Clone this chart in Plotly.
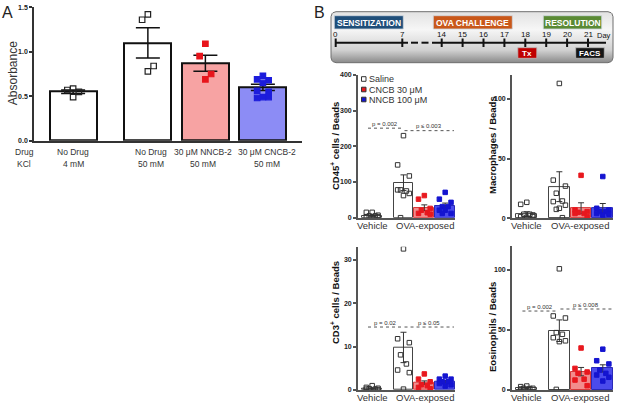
import numpy as np
import plotly.graph_objects as go

W, H = 617, 405
FONT = "Arial, Liberation Sans, sans-serif"
NARROW = "Liberation Sans Narrow, Arial Narrow, " + FONT

# ---------------- Panel A data ----------------
a_drug = ["No Drug", "No Drug", "30 μM NNCB-2", "30 μM CNCB-2"]
a_kcl = ["4 mM", "50 mM", "50 mM", "50 mM"]
a_mean = [0.55, 1.10, 0.87, 0.60]
a_sem = [0.02, 0.17, 0.09, 0.035]
a_pts = [
    [0.585, 0.57, 0.55, 0.49],
    [1.42, 1.36, 0.84, 0.78],
    [1.09, 0.95, 0.75, 0.69],
    [0.73, 0.69, 0.68, 0.65, 0.56, 0.55, 0.49, 0.48, 0.49],
]
a_yticks = [0.0, 0.5, 1.0, 1.5]

# ---------------- Panel B data ----------------
b_groups = ["Vehicle", "OVA-exposed"]
b_series = ["Saline", "CNCB 30 μM", "NNCB 100 μM"]

cd45_mean = [5, 98, 28, 34]
cd45_sem = [2, 22, 8, 7]
cd45_pts = [[15, 15, 7, 5, 5, 3, 3, 1],
            [230, 148, 117, 78, 75, 78, 68, 62, 0],
            [62, 52, 26, 21, 14, 12, 10],
            [71, 52, 43, 31, 31, 21, 12, 21, 12]]

mac_mean = [3.5, 26.5, 8.4, 8.4]
mac_sem = [2, 12.5, 4.6, 4]
mac_pts = [[13.4, 11.7, 2.8, 3.4, 3.4, 1.4, 1.4, 0.8],
           [113, 32, 27, 21, 14.5, 14, 11, 8.4, 7.5, 0.5],
           [36, 7, 5.6, 5, 4, 4, 1.4],
           [35, 8.4, 7, 5.6, 5.6, 4, 3.4, 2.8]]

cd3_mean = [0.3, 9.8, 1.7, 1.9]
cd3_sem = [0.1, 3.5, 0.4, 0.3]
cd3_pts = [[1.0, 0.6, 0.4, 0.3, 0.2, 0.2, 0.1],
           [32.5, 11.8, 10.9, 8.1, 6.0, 4.6, 4.0, 0.2],
           [3.7, 2.5, 1.9, 1.2, 1.0, 0.6, 0.3],
           [3.2, 2.5, 2.5, 1.9, 1.9, 1.5, 1.2, 0.9]]

eos_mean = [2, 49.4, 15.3, 18]
eos_sem = [0.5, 9, 3.5, 3]
eos_pts = [[3.3, 2.8, 1.4, 1.4, 1.2, 0.8],
           [101, 61.7, 60, 47.8, 46.4, 43.6, 41, 40.3, 0.5],
           [35, 18, 15, 14, 9, 8.3, 3.6],
           [34, 24.4, 21.7, 16.7, 13.9, 12.5, 10.6, 7.5]]

cd45_p = ["p = 0.002", "p ≤ 0.003"]; cd45_p_y = [251, 244]
cd3_p = ["p = 0.02", "p ≤ 0.05"];    cd3_p_y = [14.5, 14.5]
eos_p = ["p = 0.002", "p ≤ 0.008"];  eos_p_y = [65.8, 67.5]

# timeline
tl_days = [0, 7, 14, 15, 16, 17, 18, 19, 20, 21]
tl_phases = ["SENSITIZATION", "OVA CHALLENGE", "RESOLUTION"]

# ---------------- helpers ----------------
def dom_x(x0, x1):
    return [x0 / W, x1 / W]

def dom_y(ytop, ybot):
    return [1 - ybot / H, 1 - ytop / H]

PATTERN_B = [0, -1, 1, -0.5, 0.5, -1, 1, 0, -0.5, 0.5, 0]
PATTERN_A = [0, -1, 1]

def jitter(center, n, spread, pattern):
    return [center + spread * pattern[i % len(pattern)] for i in range(n)]

def pann(x, y, text, **kw):
    d = dict(x=x / W, y=1 - y / H, xref="paper", yref="paper", text=text, showarrow=False,
             xanchor="center", yanchor="middle")
    d.update(kw)
    return d

fig = go.Figure()
layout = dict(width=W, height=H, margin=dict(l=0, r=0, t=0, b=0, pad=0),
              paper_bgcolor="white", plot_bgcolor="rgba(0,0,0,0)",
              showlegend=False, font=dict(family=FONT, color="#222"))
annotations = []
shapes = []

def add_axes(n, xd, yd, xr, yr, ticks, fmt, lc, lw, tfs):
    xs = "xaxis" if n == 1 else f"xaxis{n}"
    ys = "yaxis" if n == 1 else f"yaxis{n}"
    xa = "x" if n == 1 else f"x{n}"
    ya = "y" if n == 1 else f"y{n}"
    layout[xs] = dict(domain=xd, range=xr, anchor=ya, showline=True, linecolor=lc,
                      linewidth=lw, showticklabels=False, ticks="", showgrid=False,
                      zeroline=False, fixedrange=True, automargin=False)
    layout[ys] = dict(domain=yd, range=yr, anchor=xa, showline=True, linecolor=lc,
                      linewidth=lw, ticks="outside", ticklen=3, tickwidth=lw, tickcolor=lc,
                      tickvals=ticks, tickformat=fmt, showgrid=False, zeroline=False,
                      tickfont=dict(size=tfs, weight="bold", color="#222"), fixedrange=True,
                      automargin=False)
    return xa, ya

# ---------------- Panel A ----------------
a_x = [0, 1.3, 2.3, 3.3]
a_label_px = [73, 150.7, 203.3, 266.7]
xa, ya = add_axes(1, dom_x(34, 302), dom_y(7.3, 140.7), [-0.68, 3.98], [0, 1.5],
                  a_yticks, ".1f", "#333", 1.5, 7)
a_fill = ["white", "white", "#f7a3a3", "#8c8cf5"]
fig.add_trace(go.Bar(x=a_x, y=a_mean, width=0.82, xaxis=xa, yaxis=ya,
                     marker=dict(color=a_fill, line=dict(color="#111", width=2)),
                     error_y=dict(type="data", array=a_sem, color="#111", thickness=1.5, width=12)))
a_msym = ["square-open", "square-open", "square", "square"]
a_mcol = ["#222", "#222", "#e8141b", "#1c1cdc"]
for i in range(4):
    fig.add_trace(go.Scatter(x=jitter(a_x[i], len(a_pts[i]), 0.1, PATTERN_A), y=a_pts[i],
                             mode="markers", xaxis=xa, yaxis=ya,
                             marker=dict(symbol=a_msym[i], size=5.5, color=a_mcol[i],
                                         line=dict(width=1.2, color=a_mcol[i]))))
for i in range(4):
    annotations.append(pann(a_label_px[i], 152.3, a_drug[i], font=dict(size=8.5, color="#333")))
    annotations.append(pann(a_label_px[i], 164, a_kcl[i], font=dict(size=8.5, color="#333")))
annotations.append(pann(24, 152.3, "Drug", font=dict(size=8.5, color="#333")))
annotations.append(pann(24, 164, "KCl", font=dict(size=8.5, color="#333")))
annotations.append(pann(12.7, 73.5, "Absorbance", textangle=-90, font=dict(size=12, color="#333")))
annotations.append(pann(7.5, 12.5, "A", font=dict(size=16, color="#222")))
annotations.append(pann(319, 12, "B", font=dict(size=16, color="#222")))

# ---------------- Panel B ----------------
b_x = [0, 1.5, 2.5, 3.5]
XR = [-0.68, 3.97]
b_fill = ["white", "#f28c8c", "#4b4bec"]
b_line = ["#444", "#d83a3a", "#2a2ab8"]
b_msym = ["square-open", "square", "square"]
b_mcol = ["#333", "#e8181e", "#1515d0"]

panels = [
    (2, (358, 455), (75, 217.7), [0, 400], [0, 100, 200, 300, 400], cd45_mean, cd45_sem, cd45_pts,
     "CD45<sup>+</sup> cells / Beads", (335, 146), cd45_p, cd45_p_y, (372, 425, 225)),
    (3, (512, 613), (75.1, 218.3), [0, 120], [0, 50, 100], mac_mean, mac_sem, mac_pts,
     "Macrophages / Beads", (492, 145), None, None, (526.7, 580, 225)),
    (4, (358, 455), (246.7, 390), [0, 33], [0, 10, 20, 30], cd3_mean, cd3_sem, cd3_pts,
     "CD3<sup>+</sup> cells / Beads", (335, 303), cd3_p, cd3_p_y, (372, 425, 397.3)),
    (5, (512, 613), (246, 390), [0, 120], [0, 50, 100], eos_mean, eos_sem, eos_pts,
     "Eosinophils / Beads", (492, 327), eos_p, eos_p_y, (526.7, 580, 397.3)),
]

for (n, xd, yd, yr, ticks, mean, sem, pts, title, tpos, ptxt, py_, lab) in panels:
    xa, ya = add_axes(n, dom_x(*xd), dom_y(*yd), XR, yr, ticks, "d", "#555", 1.8, 7)
    groups = [[0, 1], [2], [3]]
    for s, idx in enumerate(groups):
        fig.add_trace(go.Bar(x=[b_x[i] for i in idx], y=[mean[i] for i in idx], width=0.95,
                             xaxis=xa, yaxis=ya,
                             marker=dict(color=b_fill[s], line=dict(color=b_line[s], width=1)),
                             error_y=dict(type="data", array=[sem[i] for i in idx],
                                          color="#333", thickness=1, width=3)))
    for s, idx in enumerate(groups):
        for i in idx:
            fig.add_trace(go.Scatter(x=jitter(b_x[i], len(pts[i]), 0.28, PATTERN_B), y=pts[i],
                                     mode="markers", xaxis=xa, yaxis=ya,
                                     marker=dict(symbol=b_msym[s], size=4.5, color=b_mcol[s],
                                                 line=dict(width=1, color=b_mcol[s]))))
    annotations.append(pann(tpos[0], tpos[1], title, textangle=-90,
                            font=dict(size=9.5, weight="bold", color="#111")))
    annotations.append(pann(lab[0], lab[2], b_groups[0], font=dict(size=9.5, color="#333")))
    annotations.append(pann(lab[1], lab[2], b_groups[1], font=dict(size=9.5, color="#333")))
    if ptxt:
        spans = [(-0.2, 1.45), (1.55, 3.92)]
        for k in range(2):
            shapes.append(dict(type="line", xref=xa, yref=ya, x0=spans[k][0], x1=spans[k][1],
                               y0=py_[k], y1=py_[k], line=dict(color="#555", width=1, dash="dot")))
            annotations.append(dict(x=(spans[k][0] + spans[k][1]) / 2, y=py_[k], xref=xa, yref=ya,
                                    text=ptxt[k], showarrow=False, yshift=4.5,
                                    xanchor="center", yanchor="middle",
                                    font=dict(size=6, color="#333")))

# helper pixel axis for diagram elements
layout["xaxis6"] = dict(domain=[0, 1], range=[0, W], anchor="y6", visible=False, fixedrange=True)
layout["yaxis6"] = dict(domain=[0, 1], range=[H, 0], anchor="x6", visible=False, fixedrange=True)

# legend (CD45 panel)
leg_y = [79, 89.5, 99.5]
leg_fill = ["white", "#e8181e", "#1515d0"]
for k in range(3):
    shapes.append(dict(type="rect", xref="x6", yref="y6", x0=361.5, x1=366, y0=leg_y[k] - 2.3,
                       y1=leg_y[k] + 2.3, fillcolor=leg_fill[k], line=dict(color="#333", width=1)))
    annotations.append(dict(x=366.5, y=leg_y[k], xref="x6", yref="y6", text=b_series[k],
                            showarrow=False, xanchor="left", yanchor="middle",
                            font=dict(size=9, color="#333")))

# ---------------- Timeline ----------------
knots_d = [0, 7, 14, 21]
knots_p = [335.7, 402.3, 441.7, 588.0]
def dpx(d):
    return float(np.interp(d, knots_d, knots_p))

bx0, bx1, by0, by1, r = 331, 613, 11.7, 62.7, 5
t = np.linspace(0, np.pi / 2, 8)
xs, ys = [], []
for cx, cy, a0 in [(bx1 - r, by0 + r, -np.pi / 2), (bx1 - r, by1 - r, 0),
                   (bx0 + r, by1 - r, np.pi / 2), (bx0 + r, by0 + r, np.pi)]:
    xs += list(cx + r * np.cos(a0 + t))
    ys += list(cy + r * np.sin(a0 + t))
xs.append(xs[0]); ys.append(ys[0])
fig.add_trace(go.Scatter(x=xs, y=ys, xaxis="x6", yaxis="y6", mode="lines", fill="toself",
                         line=dict(color="#6e6e6e", width=1),
                         fillgradient=dict(type="vertical", start=by0, stop=by1,
                                           colorscale=[[0, "#e2e2e2"], [0.35, "#f6f6f6"],
                                                       [0.75, "#d2d2d2"], [1, "#8a8a8a"]]),
                         hoverinfo="skip"))

phase_box = [(334.3, 403.3, "#1f4e79"), (433.3, 512.3, "#c9581a"), (543.3, 601.7, "#5a8a34")]
for k, (x0, x1, c) in enumerate(phase_box):
    shapes.append(dict(type="rect", xref="x6", yref="y6", x0=x0, x1=x1, y0=15.7, y1=29,
                       fillcolor=c, line=dict(color="#cfd8e0", width=0.8)))
    annotations.append(dict(x=(x0 + x1) / 2, y=22.5, xref="x6", yref="y6", text=tl_phases[k],
                            showarrow=False, xanchor="center", yanchor="middle",
                            font=dict(size=8.5, weight="bold", color="white", family=NARROW)))

ly = 42.7
shapes.append(dict(type="line", xref="x6", yref="y6", x0=dpx(0) - 0.5, x1=408, y0=ly, y1=ly,
                   line=dict(color="#111", width=2)))
for a0, a1 in [(411, 418), (421.5, 428.5)]:
    shapes.append(dict(type="line", xref="x6", yref="y6", x0=a0, x1=a1, y0=ly, y1=ly,
                       line=dict(color="#111", width=2)))
shapes.append(dict(type="line", xref="x6", yref="y6", x0=432, x1=606, y0=ly, y1=ly,
                   line=dict(color="#111", width=2)))
for d in tl_days:
    shapes.append(dict(type="line", xref="x6", yref="y6", x0=dpx(d), x1=dpx(d), y0=38.5, y1=47,
                       line=dict(color="#111", width=2)))
    annotations.append(dict(x=dpx(d), y=34.3, xref="x6", yref="y6", text=str(d), showarrow=False,
                            xanchor="center", yanchor="middle",
                            font=dict(size=8, color="#111", family=NARROW)))
annotations.append(dict(x=603.5, y=35, xref="x6", yref="y6", text="Day", showarrow=False,
                        xanchor="center", yanchor="middle",
                        font=dict(size=7.5, color="#111", family=NARROW)))

for d, w, c, txt in [(18, 19, "#c00000", "Tx"), (21, 28.6, "#151515", "FACS")]:
    cx = dpx(d) + 2
    shapes.append(dict(type="rect", xref="x6", yref="y6", x0=cx - w / 2, x1=cx + w / 2, y0=47.7, y1=58.3,
                       fillcolor=c, line=dict(color="#bbbbbb", width=0.8)))
    annotations.append(dict(x=cx, y=53, xref="x6", yref="y6", text=txt, showarrow=False,
                            xanchor="center", yanchor="middle",
                            font=dict(size=8, weight="bold", color="white", family=NARROW)))

layout["annotations"] = annotations
layout["shapes"] = shapes
layout["bargap"] = 0
fig.update_layout(**layout)
fig.write_html("out.html", config={"displayModeBar": False},
               post_script="document.body.style.margin='0';document.body.style.overflow='hidden';")
